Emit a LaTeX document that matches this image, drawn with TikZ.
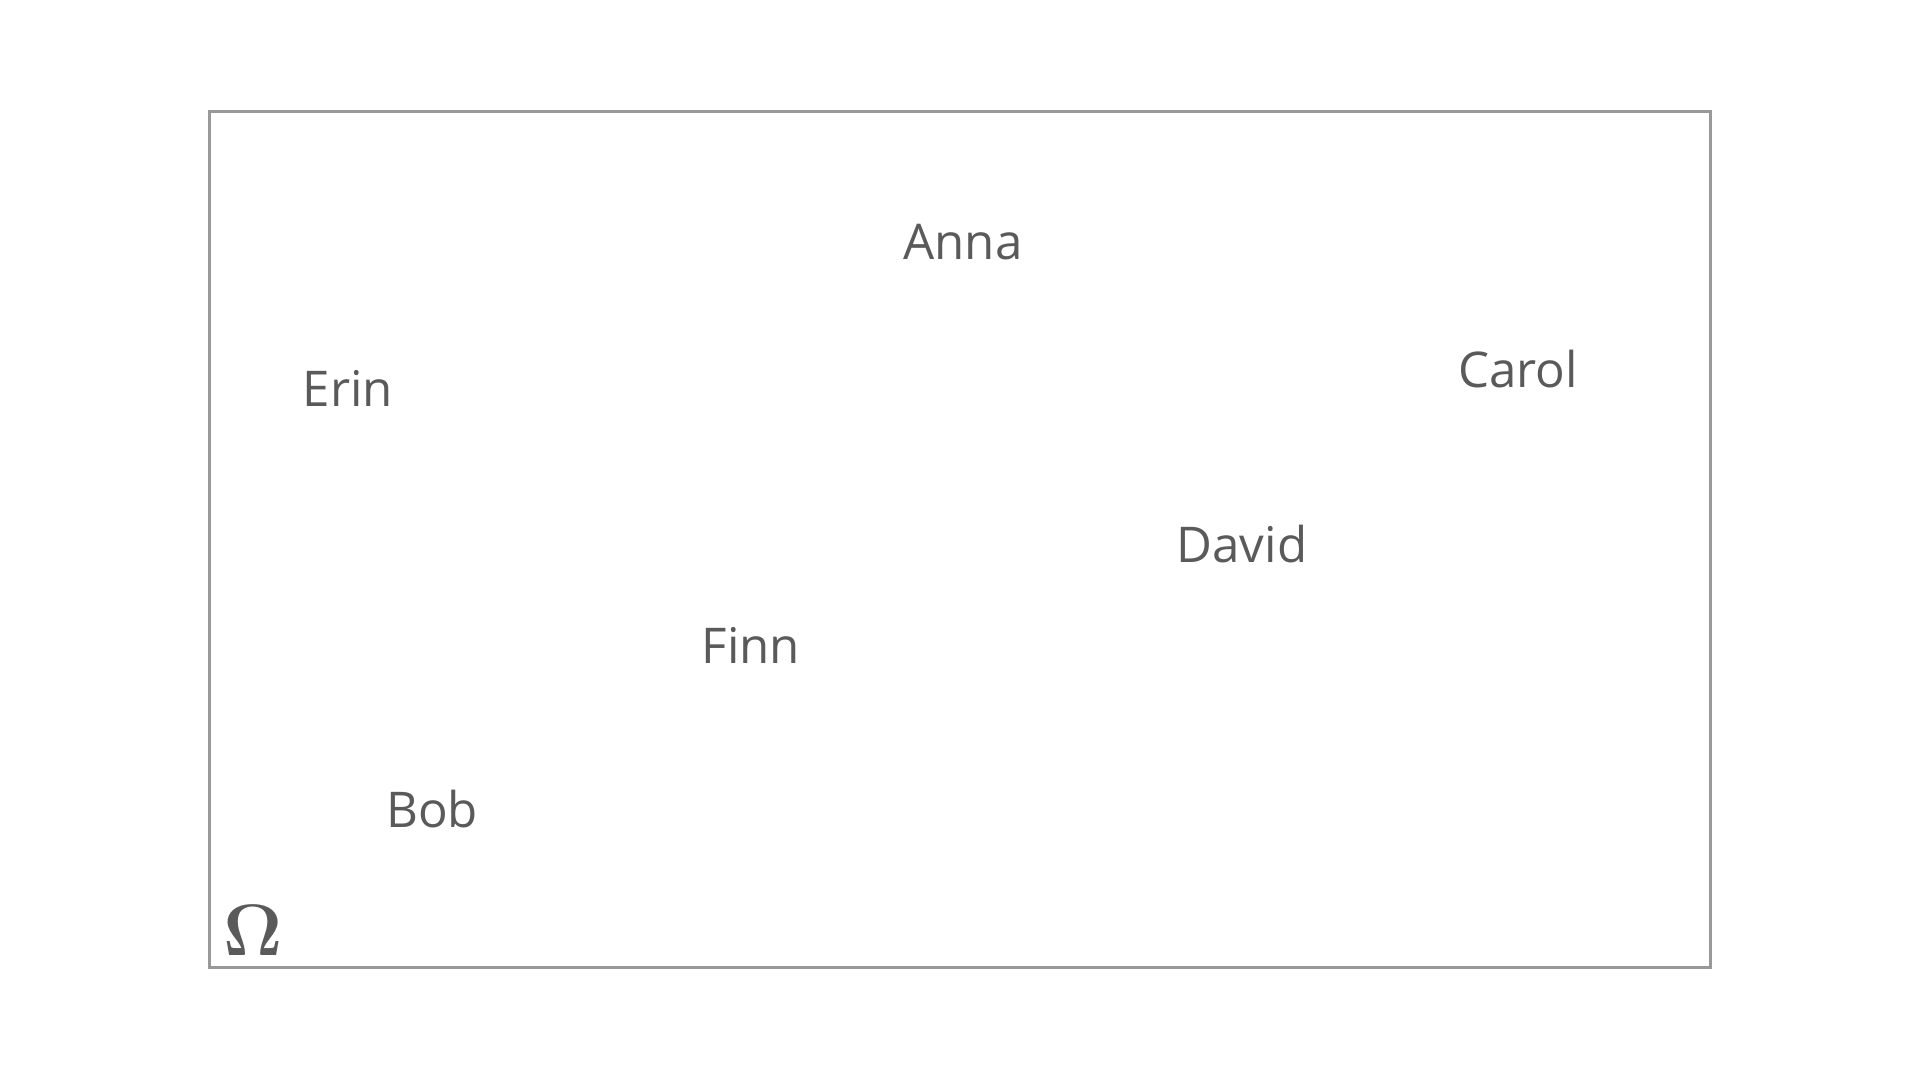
\documentclass[tikz,border=0pt]{standalone}
\usepackage[no-math]{fontspec}
\newfontfamily\namefont{Open Sans}
\definecolor{txt}{HTML}{5A5A5A}
\definecolor{frame}{HTML}{999999}
\begin{document}
\begin{tikzpicture}[x=0.01cm,y=-0.01cm,
  lbl/.style={anchor=base,inner sep=0pt,text=txt,font=\namefont\fontsize{14pt}{17pt}\selectfont}]
\useasboundingbox (0,0) rectangle (1920,1080);
\draw[frame,line width=0.75pt] (209.5,111.5) rectangle (1710.5,967.5);
\node[lbl] (anna) at (963,260) {Anna};
\node[lbl] (carol) at (1518,388) {Carol};
\node[lbl] (erin) at (348,407) {Erin};
\node[lbl] (david) at (1242,563) {David};
\node[lbl] (finn) at (751,664) {Finn};
\node[lbl] (bob) at (432,828) {Bob};
\node[anchor=base west,inner sep=0pt,text=txt,font=\fontsize{21pt}{24pt}\selectfont\boldmath] (omega) at (223,956) {$\Omega$};
\end{tikzpicture}
\end{document}
